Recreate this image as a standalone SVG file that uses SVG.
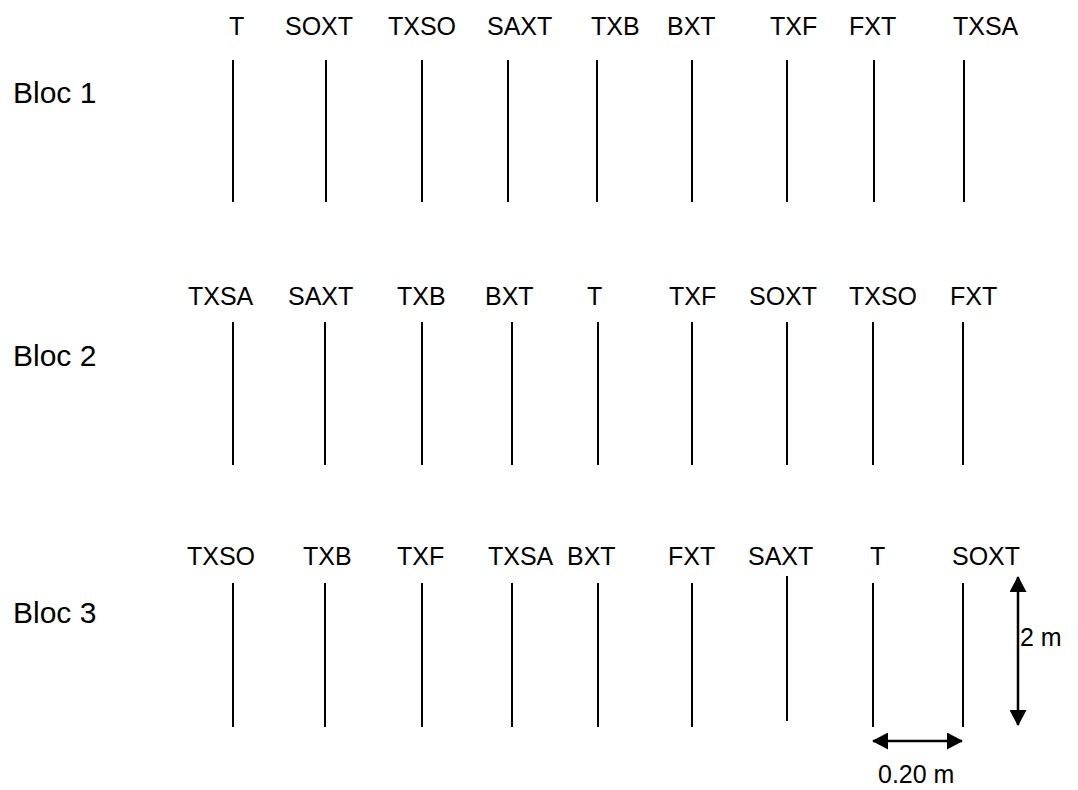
<svg xmlns="http://www.w3.org/2000/svg" width="1078" height="790" viewBox="0 0 1078 790">
  <style>
    text { font-family: "Liberation Sans", Arial, sans-serif; fill: #000; }
    .lbl { font-size: 25px; }
    .bloc { font-size: 30px; }
    .row line { stroke: #000; stroke-width: 2; }
    .dim { stroke: #000; stroke-width: 2.5; fill: none; }
  </style>
  <defs>
    <marker id="head" viewBox="0 0 16 17" refX="15" refY="8.5" markerWidth="16" markerHeight="17" markerUnits="userSpaceOnUse" orient="auto-start-reverse">
      <path d="M0,0 L16,8.5 L0,17 Z" fill="#000"/>
    </marker>
  </defs>
  <rect width="1078" height="790" fill="#fff"/>

  <!-- Bloc 1 -->
  <g id="bloc1">
    <text class="bloc" x="13" y="103">Bloc 1</text>
    <g class="lbl">
      <text x="229" y="35">T</text>
      <text x="285" y="35">SOXT</text>
      <text x="388" y="35">TXSO</text>
      <text x="487" y="35">SAXT</text>
      <text x="591" y="35">TXB</text>
      <text x="667" y="35">BXT</text>
      <text x="770" y="35">TXF</text>
      <text x="849" y="35">FXT</text>
      <text x="953" y="35">TXSA</text>
    </g>
    <g class="row">
      <line x1="233" y1="60" x2="233" y2="202"/>
      <line x1="326" y1="60" x2="326" y2="202"/>
      <line x1="422" y1="60" x2="422" y2="202"/>
      <line x1="508" y1="60" x2="508" y2="202"/>
      <line x1="597" y1="60" x2="597" y2="202"/>
      <line x1="692" y1="60" x2="692" y2="202"/>
      <line x1="787" y1="60" x2="787" y2="202"/>
      <line x1="874" y1="60" x2="874" y2="202"/>
      <line x1="964" y1="60" x2="964" y2="202"/>
    </g>
  </g>

  <!-- Bloc 2 -->
  <g id="bloc2">
    <text class="bloc" x="13" y="366">Bloc 2</text>
    <g class="lbl">
      <text x="188" y="305">TXSA</text>
      <text x="288" y="305">SAXT</text>
      <text x="397" y="305">TXB</text>
      <text x="485" y="305">BXT</text>
      <text x="587" y="305">T</text>
      <text x="669" y="305">TXF</text>
      <text x="749" y="305">SOXT</text>
      <text x="849" y="305">TXSO</text>
      <text x="950" y="305">FXT</text>
    </g>
    <g class="row">
      <line x1="233" y1="322" x2="233" y2="465"/>
      <line x1="325" y1="322" x2="325" y2="465"/>
      <line x1="422" y1="322" x2="422" y2="465"/>
      <line x1="512" y1="322" x2="512" y2="465"/>
      <line x1="598" y1="322" x2="598" y2="465"/>
      <line x1="692" y1="322" x2="692" y2="465"/>
      <line x1="787" y1="322" x2="787" y2="465"/>
      <line x1="873" y1="322" x2="873" y2="465"/>
      <line x1="963" y1="322" x2="963" y2="465"/>
    </g>
  </g>

  <!-- Bloc 3 -->
  <g id="bloc3">
    <text class="bloc" x="13" y="623">Bloc 3</text>
    <g class="lbl">
      <text x="187" y="565">TXSO</text>
      <text x="303" y="565">TXB</text>
      <text x="397" y="565">TXF</text>
      <text x="488" y="565">TXSA</text>
      <text x="567" y="565">BXT</text>
      <text x="668" y="565">FXT</text>
      <text x="748" y="565">SAXT</text>
      <text x="870" y="565">T</text>
      <text x="952" y="565">SOXT</text>
    </g>
    <g class="row">
      <line x1="233" y1="583" x2="233" y2="727"/>
      <line x1="325" y1="583" x2="325" y2="727"/>
      <line x1="422" y1="583" x2="422" y2="727"/>
      <line x1="512" y1="583" x2="512" y2="727"/>
      <line x1="598" y1="583" x2="598" y2="727"/>
      <line x1="692" y1="583" x2="692" y2="727"/>
      <line x1="787" y1="576" x2="787" y2="721"/>
      <line x1="873" y1="583" x2="873" y2="727"/>
      <line x1="963" y1="583" x2="963" y2="727"/>
    </g>
  </g>

  <!-- dimension arrows -->
  <g id="dimensions">
    <line class="dim" x1="1018" y1="577" x2="1018" y2="725" marker-start="url(#head)" marker-end="url(#head)"/>
    <text class="lbl" x="1020" y="646">2 m</text>
    <line class="dim" x1="873" y1="741" x2="962" y2="741" marker-start="url(#head)" marker-end="url(#head)"/>
    <text class="lbl" x="878" y="783">0.20 m</text>
  </g>
</svg>
